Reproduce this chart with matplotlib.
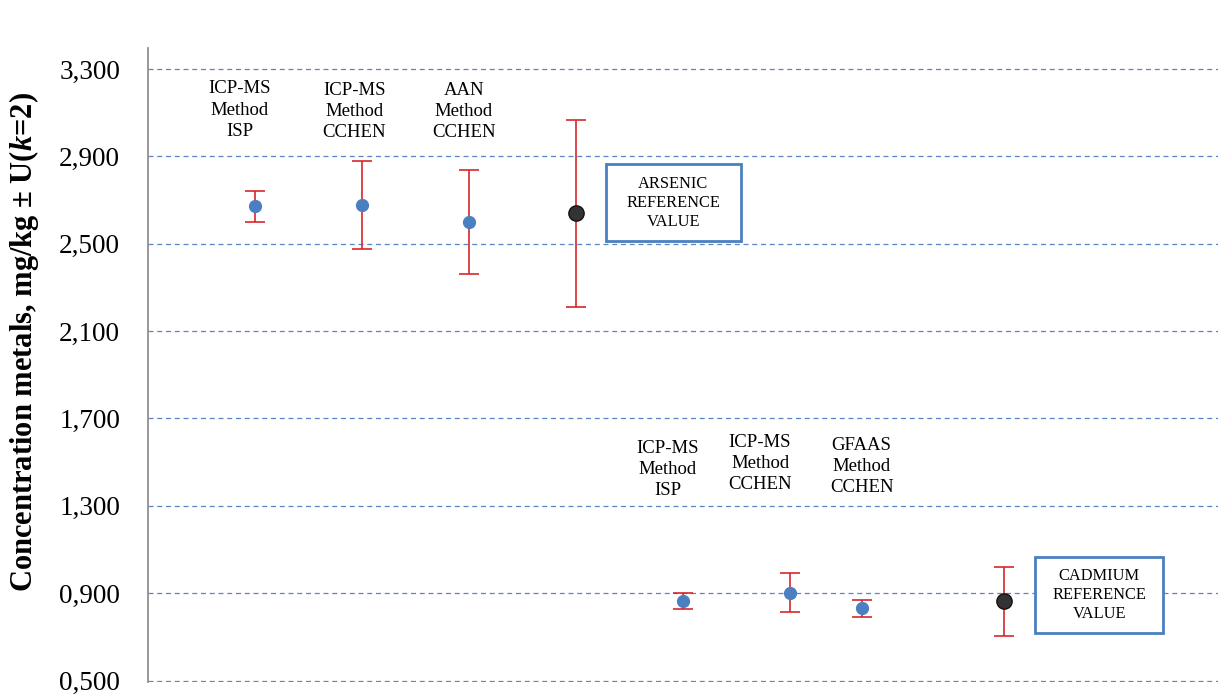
import numpy as np
import matplotlib.pyplot as plt
from matplotlib.patches import Rectangle

plt.rcParams["font.family"] = ["Liberation Serif", "DejaVu Serif"]
plt.rcParams["mathtext.fontset"] = "custom"
plt.rcParams["mathtext.rm"] = "Liberation Serif:bold"
plt.rcParams["mathtext.it"] = "Liberation Serif:italic:bold"

# arsenic results (mg/kg) and expanded uncertainty U (k=2)
as_x = [1, 2, 3]
as_val = [2.672, 2.677, 2.599]
as_err = [0.071, 0.200, 0.238]
as_labels = ["ICP-MS\nMethod\nISP", "ICP-MS\nMethod\nCCHEN", "AAN\nMethod\nCCHEN"]
as_ref_x = 4
as_ref_val = 2.640
as_ref_err = 0.428

# cadmium results
cd_x = [5, 6, 6.67]
cd_val = [0.866, 0.903, 0.830]
cd_err = [0.037, 0.090, 0.039]
cd_labels = ["ICP-MS\nMethod\nISP", "ICP-MS\nMethod\nCCHEN", "GFAAS\nMethod\nCCHEN"]
cd_ref_x = 8
cd_ref_val = 0.862
cd_ref_err = 0.158

yticks = np.arange(0.5, 3.31, 0.4)

BLUE = "#4a7fc1"
RED = "#d9262b"
GRID = "#5b86c4"

fig = plt.figure(figsize=(12.18, 6.94), dpi=100)
ax = fig.add_axes([0.1215, 0.0178, 0.8785, 0.9132])

err_kw = dict(fmt="o", ecolor=RED, elinewidth=1.2, capsize=7, capthick=1.2, zorder=3)
ax.errorbar(as_x, as_val, yerr=as_err, color=BLUE, markersize=8.5, **err_kw)
ax.errorbar(cd_x, cd_val, yerr=cd_err, color=BLUE, markersize=8.5, **err_kw)
ax.errorbar([as_ref_x, cd_ref_x], [as_ref_val, cd_ref_val], yerr=[as_ref_err, cd_ref_err],
            color="#333333", mec="#111111", markersize=11, **err_kw)

# method labels
lab_fs = 13.5
for xx, yy, t in zip([0.86, 1.93, 2.95], [3.112, 3.105, 3.105], as_labels):
    ax.text(xx, yy, t, ha="center", va="center", fontsize=lab_fs, linespacing=1.32)
for xx, yy, t in zip([4.86, 5.72, 6.67], [1.467, 1.494, 1.48], cd_labels):
    ax.text(xx, yy, t, ha="center", va="center", fontsize=lab_fs, linespacing=1.32)

# reference value boxes, placed to the right of the reference points
for rx, txt, (x0, x1, y0, y1) in [
        (as_ref_x, "ARSENIC\nREFERENCE\nVALUE", (0.28, 1.54, 2.512, 2.865)),
        (cd_ref_x, "CADMIUM\nREFERENCE\nVALUE", (0.29, 1.49, 0.720, 1.068))]:
    ax.add_patch(Rectangle((rx + x0, y0), x1 - x0, y1 - y0, fc="white", ec=BLUE,
                           lw=2, zorder=4))
    ax.text(rx + (x0 + x1) / 2, (y0 + y1) / 2, txt, ha="center", va="center",
            fontsize=11.8, linespacing=1.25, zorder=5)

ax.set_xlim(0, 10)
ax.set_ylim(0.495, 3.397)
ax.set_yticks(yticks)
ax.set_yticklabels([f"{v:.3f}".replace(".", ",") for v in yticks])
ax.set_xticks([])
ax.tick_params(axis="y", length=0, pad=20, labelsize=19.5)
ax.yaxis.grid(True, linestyle=(0, (4, 3)), color=GRID, linewidth=0.9)
ax.set_axisbelow(True)
for s in ["top", "right", "bottom"]:
    ax.spines[s].set_visible(False)
ax.spines["left"].set_color("#868686")
ax.spines["left"].set_linewidth(1.2)

fig.text(0.0197, 0.507, "Concentration metals, mg/kg ± U($k$=2)", rotation=90,
         ha="center", va="center", fontsize=22, fontweight="bold")

fig.savefig("out.png", dpi=100)
